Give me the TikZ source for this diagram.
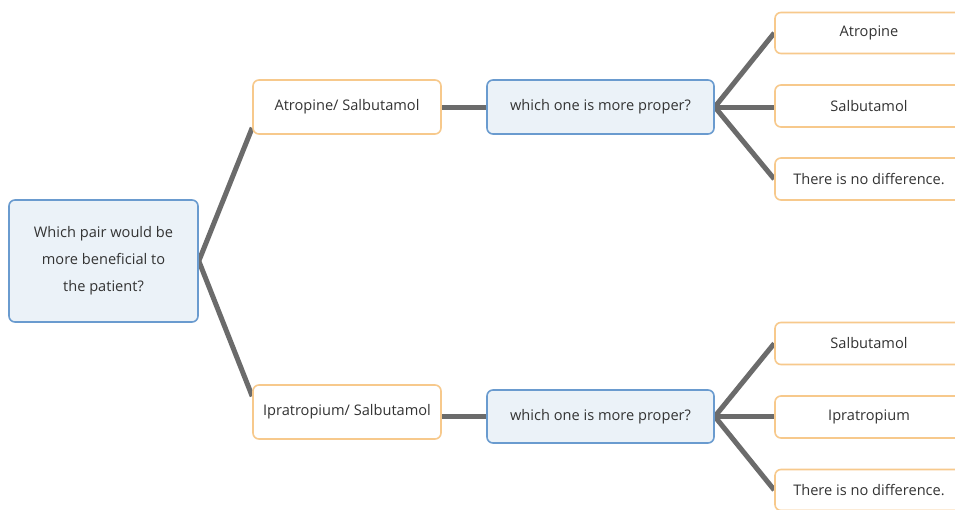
\documentclass[tikz,border=0pt]{standalone}
\usepackage{fontspec}
\setmainfont{Open Sans}
\usetikzlibrary{calc,backgrounds}
\definecolor{qborder}{HTML}{6A9BCF}
\definecolor{qfill}{HTML}{EBF2F8}
\definecolor{aborder}{HTML}{F7C98C}
\definecolor{linkgray}{HTML}{6B6B6B}
\definecolor{txt}{HTML}{333333}
\begin{document}
\begin{tikzpicture}[x=1pt,y=-1pt,
  every node/.style={font=\fontsize{14.6}{27}\selectfont, text=txt, inner sep=0pt},
  question/.style={draw=qborder, fill=qfill, line width=1.6pt, rounded corners=6pt},
  answer/.style={draw=aborder, fill=white, line width=1.6pt, rounded corners=6pt},
  link/.style={draw=linkgray, line width=5pt}]
\useasboundingbox (0,0) rectangle (955,509);
\clip (0,0) rectangle (955,509);

% root question
\node[question, minimum width=189, minimum height=122, align=center] (root) at (103.5,261)
  {Which pair would be\\more beneficial to\\the patient?};

% first branch
\node[answer, minimum width=188, minimum height=54] (pa) at (347,107) {Atropine/ Salbutamol};
\node[question, minimum width=227, minimum height=54] (qa) at (600.5,107) {which one is more proper?};
\node[answer, minimum width=188, minimum height=41] (a1) at (869,33) {Atropine};
\node[answer, minimum width=188, minimum height=42] (a2) at (869,106) {Salbutamol};
\node[answer, minimum width=188, minimum height=42] (a3) at (869,179) {There is no difference.};

% second branch
\node[answer, minimum width=188, minimum height=54] (pb) at (347,412) {Ipratropium/ Salbutamol};
\node[question, minimum width=227, minimum height=53] (qb) at (600.5,416.5) {which one is more proper?};
\node[answer, minimum width=188, minimum height=42] (b1) at (869,343.5) {Salbutamol};
\node[answer, minimum width=188, minimum height=42] (b2) at (869,417) {Ipratropium};
\node[answer, minimum width=188, minimum height=41] (b3) at (869,490) {There is no difference.};

% connectors, behind the boxes
\begin{scope}[on background layer]
  \fill[white] (0,0) rectangle (955,509);
  \draw[link] ($(pa.south west)+(0,-7)$) -- (root.east) -- ($(pb.north west)+(0,12)$);
  \draw[link] (pa.east) -- (qa.west);
  \draw[link] (qb.west -| pb.east) -- (qb.west);
  \draw[link] (a1.west) -- (qa.east) -- (a3.west);
  \draw[link] (qa.east) -- (qa.east -| a2.west);
  \draw[link] (b1.west) -- (qb.east) -- (b3.west);
  \draw[link] (qb.east) -- (qb.east -| b2.west);
\end{scope}
\end{tikzpicture}
\end{document}
